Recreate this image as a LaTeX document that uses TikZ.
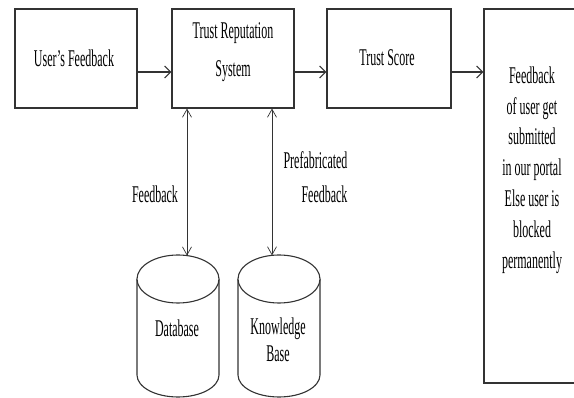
\documentclass[tikz,border=0pt]{standalone}
\usepackage{fontspec}
\setmainfont{Liberation Serif}[FakeStretch=0.5]
\usetikzlibrary{arrows.meta,calc}

\begin{document}
\begin{tikzpicture}[x=1pt,y=-1pt,
  box/.style={draw=black!80,line width=1.1pt,rectangle,inner sep=0pt},
  txt/.style={font=\fontsize{24}{30.8}\selectfont,align=center,inner sep=0pt},
  flow/.style={draw=black!80,line width=1.4pt,-{Straight Barb[length=6pt,width=12pt,line width=1.2pt]}},
  link/.style={draw=black!80,line width=0.7pt,{Straight Barb[length=8pt,width=9pt]}-{Straight Barb[length=8pt,width=9pt]}},
  drum/.style={draw=black!80,line width=1.1pt}]
\useasboundingbox (0,0) rectangle (574,398);
\clip (0,0) rectangle (574,398);
\fill[white] (0,0) rectangle (574,398);

% process boxes
\node[box,minimum width=122pt,minimum height=99pt] (ufb) at (76,58.5) {};
\node[txt] (ufbt) at (74,58) {User's Feedback};
\node[box,minimum width=122pt,minimum height=99pt] (trs) at (233,58.5) {};
\node[txt,font=\fontsize{24}{38.5}\selectfont] (trst) at (233,52) {Trust Reputation\\System};
\node[box,minimum width=124pt,minimum height=99pt] (tsc) at (389,58.5) {};
\node[txt] (tsct) at (387,58) {Trust Score};
\node[box,minimum width=94pt,minimum height=374pt] (out) at (531,196) {};
\node[txt] (outt) at (532,170) {Feedback\\of user get\\submitted\\in our portal\\Else user is\\blocked\\permanently};

% main flow
\coordinate (f1) at ([yshift=-13.5pt]ufb.east);
\coordinate (f2) at ([yshift=-13.5pt]trs.east);
\coordinate (f3) at ([yshift=-13.5pt]tsc.east);
\draw[flow] (f1) -- (f1 -| trs.west);
\draw[flow] (f2) -- (f2 -| tsc.west);
\draw[flow] (f3) -- (f3 -| out.west);

% storage drums
\foreach \cx in {178,279}{
  \draw[drum] (\cx-41,279) -- (\cx-41,375)
     arc[start angle=180,end angle=360,x radius=41pt,y radius=22pt]
     -- (\cx+41,279);
  \draw[drum,fill=white] (\cx,279) ellipse[x radius=41pt,y radius=24pt];
}
\node[txt] (db) at (177,328) {Database};
\node[txt,font=\fontsize{24}{27}\selectfont] (kb) at (278,339.5) {Knowledge\\Base};
\coordinate (dbtop) at (187,255.6);
\coordinate (kbtop) at (272,255.4);

% exchanges with the reputation system
\draw[link] (trs.south -| dbtop) -- (dbtop);
\draw[link] (trs.south -| kbtop) -- (kbtop);
\node[txt] (fbl) at (155,194) {Feedback};
\node[txt,align=right,font=\fontsize{24}{34}\selectfont] (pfl) at (315.5,177) {Prefabricated\\Feedback};
\end{tikzpicture}
\end{document}
